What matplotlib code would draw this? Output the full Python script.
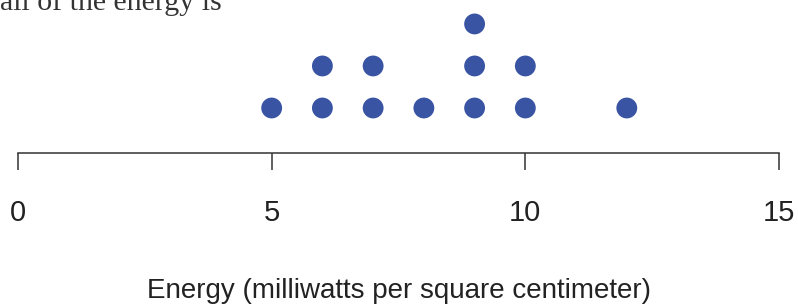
import numpy as np
import matplotlib.pyplot as plt

# energy readings (milliwatts per square centimeter)
energy = [5, 6, 6, 7, 7, 8, 9, 9, 9, 10, 10, 12]
ticks = [0, 5, 10, 15]
dot_color = '#3a54a4'

# stack repeated values into columns
xs = []
ys = []
counts = {}
for v in energy:
    counts[v] = counts.get(v, 0) + 1
    xs.append(v)
    ys.append(counts[v])

fig = plt.figure(figsize=(7.98, 3.07), dpi=100)
ax = fig.add_axes([18 / 798, (307 - 153) / 307, 761 / 798, 153 / 307])
ax.scatter(xs, ys, s=15 ** 2, color=dot_color, edgecolors='none', zorder=3)
ax.set_xlim(0, 15)
ax.set_ylim(-0.071, 3.57)

for s in ['top', 'left', 'right']:
    ax.spines[s].set_visible(False)
ax.spines['bottom'].set_color('#333333')
ax.spines['bottom'].set_linewidth(1.1)
ax.set_yticks([])
ax.set_xticks(ticks)
ax.set_xticklabels([str(t) for t in ticks], fontsize=21, family='Liberation Sans', color='#222222')
ax.tick_params(axis='x', length=12, width=1.1, color='#333333', pad=21)
ax.set_xlabel('Energy (milliwatts per square centimeter)', fontsize=20,
              family='Liberation Sans', color='#222222', labelpad=37)

# cut-off caption text at the top
fig.text(0.0, 1 - 10 / 307, 'all of the energy is', fontsize=21.5, family='Liberation Serif',
         color='#333333', va='baseline', ha='left')

fig.savefig('out.png', dpi=100)
